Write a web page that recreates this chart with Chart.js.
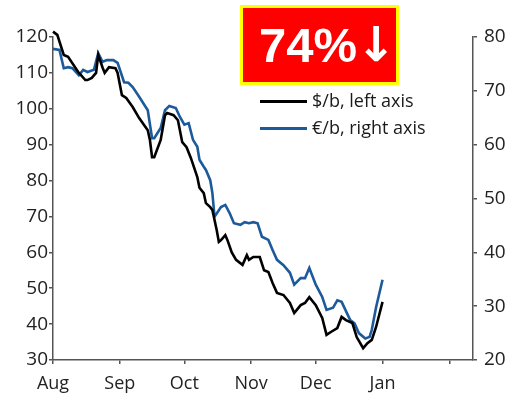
<!DOCTYPE html>
<html>
<head>
<meta charset="utf-8">
<script src="https://cdn.jsdelivr.net/npm/chart.js@4"></script>
<style>
  html, body { margin: 0; padding: 0; background: #fff; }
  #wrap { position: relative; width: 506px; height: 399px; }
  #badge { position: absolute; left: 240px; top: 5px; width: 159px; height: 80px; box-sizing: border-box;
           background: #ff0000; border: 3px solid #ffff00; color: #fff; font-family: "Liberation Sans", Arial, sans-serif;
           font-weight: bold; font-size: 49px; line-height: 74px; padding-left: 16px; white-space: nowrap; }
  #badge .arr { font-family: "DejaVu Sans", sans-serif; font-size: 48px; position: relative; top: -1px; margin-left: -1px; }
  .leg { position: absolute; left: 260px; font-family: "Open Sans", sans-serif; font-size: 18px; color: #1a1a1a; white-space: nowrap; }
  .leg .ln { display: inline-block; width: 47px; height: 3px; vertical-align: middle; margin-right: 5px; position: relative; top: -1px; }
</style>
</head>
<body>
<div id="wrap">
  <canvas id="c" width="506" height="399"></canvas>
  <div id="badge">74%<span class="arr">↓</span></div>
  <div class="leg" style="top:88px"><span class="ln" style="background:#000"></span>$/b, left axis</div>
  <div class="leg" style="top:115px"><span class="ln" style="background:#1c5a9c"></span>€/b, right axis</div>
</div>
<script>
// x positions: days since 1 Aug
const monthTicks = [0, 31, 61, 92, 122, 153, 184];
const monthLabels = ['Aug', 'Sep', 'Oct', 'Nov', 'Dec', 'Jan', ''];

const usdDays = [0,2,5,7,12,13,15,16,18,20,21,23,24,26,29,30,32,34,37,40,44,45,46,47,50,52,53,56,58,60,62,64,67,68,70,71,73,74,76,77,78,80,81,83,85,88,90,91,93,96,98,100,102,104,107,110,112,115,117,119,122,125,127,129,132,134,136,139,141,144,146,148,150,153];
const usdVals = [121.5,120.6,115,114.5,110,109.4,108,108,108.6,110,115,111.5,110,111.6,111.3,110,103.8,103,100.5,97.4,94,91.3,86.5,86.5,91.3,98.2,98.8,98.2,96.8,90.7,89.3,86.3,81,78,76.5,73.7,72.6,71.8,66.2,62.9,63.4,64.8,63.4,60,57.9,56.5,59.2,57.9,58.7,58.7,55,54.5,51.4,48.7,48.1,45.9,43.1,45.3,45.9,47.5,45.3,41.7,37,37.8,38.9,42,41.1,40.3,36.4,33.3,34.7,35.6,39.2,46.2];

const eurDays = [0,3,5,7,9,12,14,16,19,21,23,25,28,30,33,35,37,40,44,46,47,50,52,54,57,59,61,63,65,67,68,70,71,73,74,75,78,80,82,84,87,89,91,93,95,97,100,102,104,107,110,112,115,117,119,122,125,127,130,132,134,138,140,142,145,147,148,150,153];
const eurVals = [77.8,77.6,74.2,74.4,74.2,72.9,73.9,73.5,73.9,77,75.4,75.7,75.7,75.2,71.6,71.5,70.7,68.9,66.4,61.2,61.2,63.1,66.4,67.2,66.8,65.1,63.7,64,60.9,59.6,57.2,55.9,55.3,53.4,51,46.6,48.4,48.8,47.3,45.4,45.1,45.6,45.4,45.6,45.4,42.9,42.3,40.4,38.6,37.6,36.2,34,35.2,35.2,37.1,34,31.7,29.3,29.7,31.1,30.8,27.4,26.8,25,24,24.3,25.6,29.8,34.9];

const toPts = (xs, ys) => xs.map((x, i) => ({ x: x, y: ys[i] }));

const axisColor = '#555';
const tickFont = { family: 'Open Sans', size: 18 };

new Chart(document.getElementById('c'), {
  type: 'line',
  data: {
    datasets: [
      { label: '$/b, left axis', data: toPts(usdDays, usdVals), yAxisID: 'y', borderColor: '#000', borderWidth: 2.6, pointRadius: 0, tension: 0, clip: false },
      { label: '€/b, right axis', data: toPts(eurDays, eurVals), yAxisID: 'y1', borderColor: '#1c5a9c', borderWidth: 2.6, pointRadius: 0, tension: 0, clip: false }
    ]
  },
  options: {
    responsive: false,
    animation: false,
    events: [],
    layout: { padding: { top: 37, left: 0, right: 0, bottom: 0 }, autoPadding: false },
    plugins: { legend: { display: false }, tooltip: { enabled: false } },
    scales: {
      x: {
        type: 'linear', min: 0, max: 195,
        afterBuildTicks: (axis) => { axis.ticks = monthTicks.map(v => ({ value: v })); },
        afterFit: (s) => { s.height = 39; },
        ticks: { autoSkip: false, maxRotation: 0, color: '#222', font: tickFont, padding: 9,
                 callback: (v) => monthLabels[monthTicks.indexOf(v)] },
        grid: { display: true, drawOnChartArea: false, drawTicks: true, tickLength: 4, color: axisColor, lineWidth: 1.5 },
        border: { display: true, color: axisColor, width: 1.5 }
      },
      y: {
        position: 'left', min: 30, max: 120,
        afterFit: (s) => { s.width = 53; },
        ticks: { stepSize: 10, color: '#222', font: { family: 'Open Sans', size: 19 }, padding: 1 },
        grid: { display: true, drawOnChartArea: false, drawTicks: true, tickLength: 4, color: axisColor, lineWidth: 1.5 },
        border: { display: true, color: axisColor, width: 1.5 }
      },
      y1: {
        position: 'right', min: 20, max: 80,
        afterFit: (s) => { s.width = 33; },
        ticks: { stepSize: 10, color: '#222', font: { family: 'Open Sans', size: 19 }, padding: 7 },
        grid: { display: true, drawOnChartArea: false, drawTicks: true, tickLength: 4, color: axisColor, lineWidth: 1.5 },
        border: { display: true, color: axisColor, width: 1.5 }
      }
    }
  }
});
</script>
</body>
</html>
